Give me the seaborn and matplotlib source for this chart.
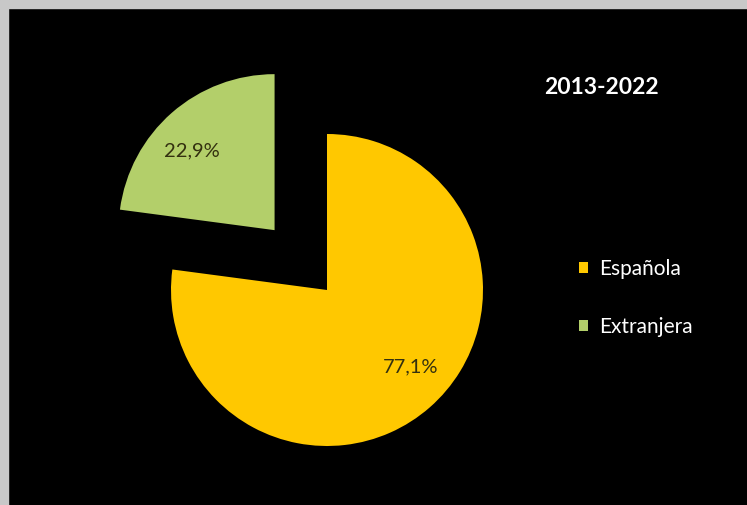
import matplotlib
matplotlib.use('Agg')
import matplotlib.pyplot as plt
import numpy as np
import seaborn as sns
from matplotlib.patches import Patch, Rectangle

categories = ['Española', 'Extranjera']
values = [77.1, 22.9]
explode = [0.0, 0.51]
colors = ['#FFC800', '#B3CF6A']
title = '2013-2022'

sns.set_style('dark')
plt.rcParams['font.family'] = ['Lato', 'DejaVu Sans']

W, H = 747, 505
fig = plt.figure(figsize=(W / 100, H / 100), dpi=100, facecolor='black')
ax = fig.add_axes([0, 0, 1, 1])
ax.set_facecolor('black')

wedges, texts, autotexts = ax.pie(
    values, explode=explode, colors=colors, startangle=90, counterclock=False,
    radius=1, autopct=lambda p: f'{p:.1f}%'.replace('.', ','), pctdistance=0.73,
    wedgeprops=dict(edgecolor='none'),
    textprops=dict(color='#33300f', fontsize=14.5))

# nudge label angles slightly, like the spreadsheet placement
for w, t, shift in zip(wedges, autotexts, [6.0, 5.0]):
    th = np.deg2rad((w.theta1 + w.theta2) / 2 + shift)
    cxw, cyw = w.center
    t.set_position((cxw + 0.73 * np.cos(th), cyw + 0.73 * np.sin(th)))

scale = 156.0
cx, cy = 327, 290
ax.set_xlim(-cx / scale, (W - cx) / scale)
ax.set_ylim(-(H - cy) / scale, cy / scale)
ax.set_aspect('auto')
ax.axis('off')

# gray frame on left and top
fig.patches.append(Rectangle((0, 0), 8 / W, 1, transform=fig.transFigure,
                             color='#C8C8C8', zorder=10))
fig.patches.append(Rectangle((0, 1 - 8 / H), 1, 8 / H, transform=fig.transFigure,
                             color='#C8C8C8', zorder=10))

fig.text(601 / W, 1 - 88 / H, title, color='white', fontsize=16.5,
         fontweight='bold', ha='center', va='center')

handles = [Patch(facecolor=c, edgecolor='none') for c in colors]
leg = fig.legend(handles, categories, loc='center left',
                 bbox_to_anchor=(579 / W, 1 - 298 / H), frameon=False,
                 fontsize=15, labelcolor='white', handlelength=0.45,
                 handleheight=0.45, handletextpad=0.5, labelspacing=1.8,
                 borderpad=0, borderaxespad=0)

fig.savefig('out.png', dpi=100, facecolor='black')
